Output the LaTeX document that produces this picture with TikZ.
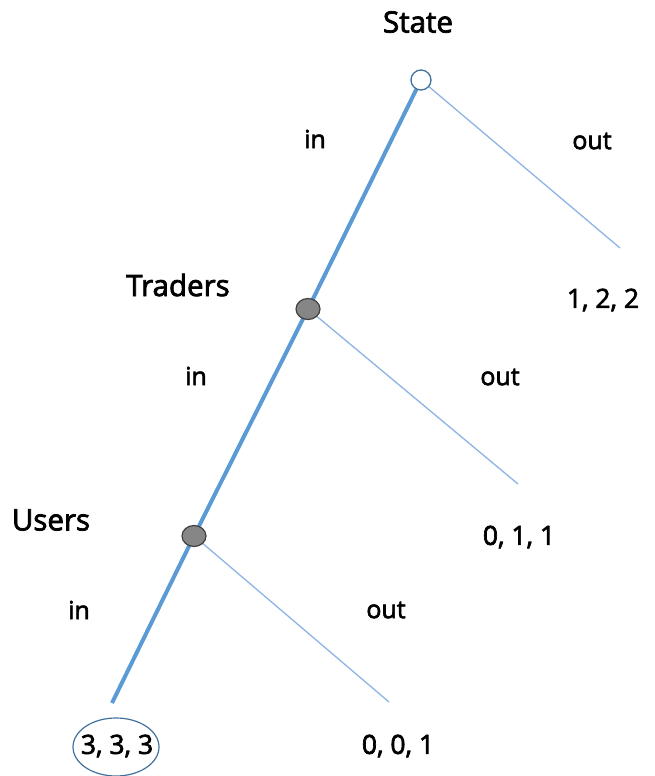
\documentclass[tikz,border=0pt]{standalone}
\usepackage{fontspec}
\setmainfont{Open Sans}[FakeBold=2.5]
\usetikzlibrary{backgrounds,shapes.geometric}
\definecolor{thickblue}{HTML}{5B9BD5}
\definecolor{thinblue}{HTML}{8DB4E2}
\definecolor{rimblue}{HTML}{41719C}
\tikzset{
  head/.style={font=\fontsize{29.5}{32}\selectfont, inner sep=0pt},
  lab/.style={font=\fontsize{25}{28}\selectfont, inner sep=0pt},
  pay/.style={font=\fontsize{26.5}{30}\selectfont, inner sep=0pt},
  opennode/.style={circle, draw=rimblue, line width=1.3pt, fill=white, minimum size=20pt, inner sep=0pt},
  decnode/.style={ellipse, draw=black!75, line width=1.2pt, fill=gray!95!white, minimum width=24pt, minimum height=21pt, inner sep=0pt},
  thickline/.style={draw=thickblue, line width=4pt},
  thinline/.style={draw=thinblue, line width=1.3pt},
}
\begin{document}
\begin{tikzpicture}[x=1pt,y=-1pt]
\useasboundingbox (0,0) rectangle (654,776);
% decision nodes
\node[opennode] (root) at (421,80) {};
\node[decnode] (trd) at (308,309) {};
\node[decnode] (usr) at (194,536) {};
\coordinate (endin) at (112,703);
\coordinate (o1) at (620,248);
\coordinate (o2) at (518,484);
\coordinate (o3) at (389,702);
\begin{pgfonlayer}{background}
\draw[thickline] (root.center) -- (trd.center) -- (usr.center) -- (endin);
\draw[thinline] (root.center) -- (o1);
\draw[thinline] (trd.center) -- (o2);
\draw[thinline] (usr.center) -- (o3);
\end{pgfonlayer}
% labels
\node[head] (lstate) at (418,22) {State};
\node[head] (ltrd) at (178,285) {Traders};
\node[head] (lusr) at (51,520) {Users};
\node[lab] (in1) at (315,139) {in};
\node[lab] (out1) at (592,141) {out};
\node[lab] (in2) at (196,376) {in};
\node[lab] (out2) at (500,377) {out};
\node[lab] (in3) at (79,610) {in};
\node[lab] (out3) at (386,610) {out};
\node[pay] (p1) at (603,300) {1, 2, 2};
\node[pay] (p2) at (519,537) {0, 1, 1};
\node[pay] (p0) at (117,746) {3, 3, 3};
\node[pay] (p3) at (398,746) {0, 0, 1};
\node[ellipse, draw=rimblue, line width=1.2pt, minimum width=86pt, minimum height=58pt, inner sep=0pt] (ring) at (116,747) {};
\end{tikzpicture}
\end{document}
